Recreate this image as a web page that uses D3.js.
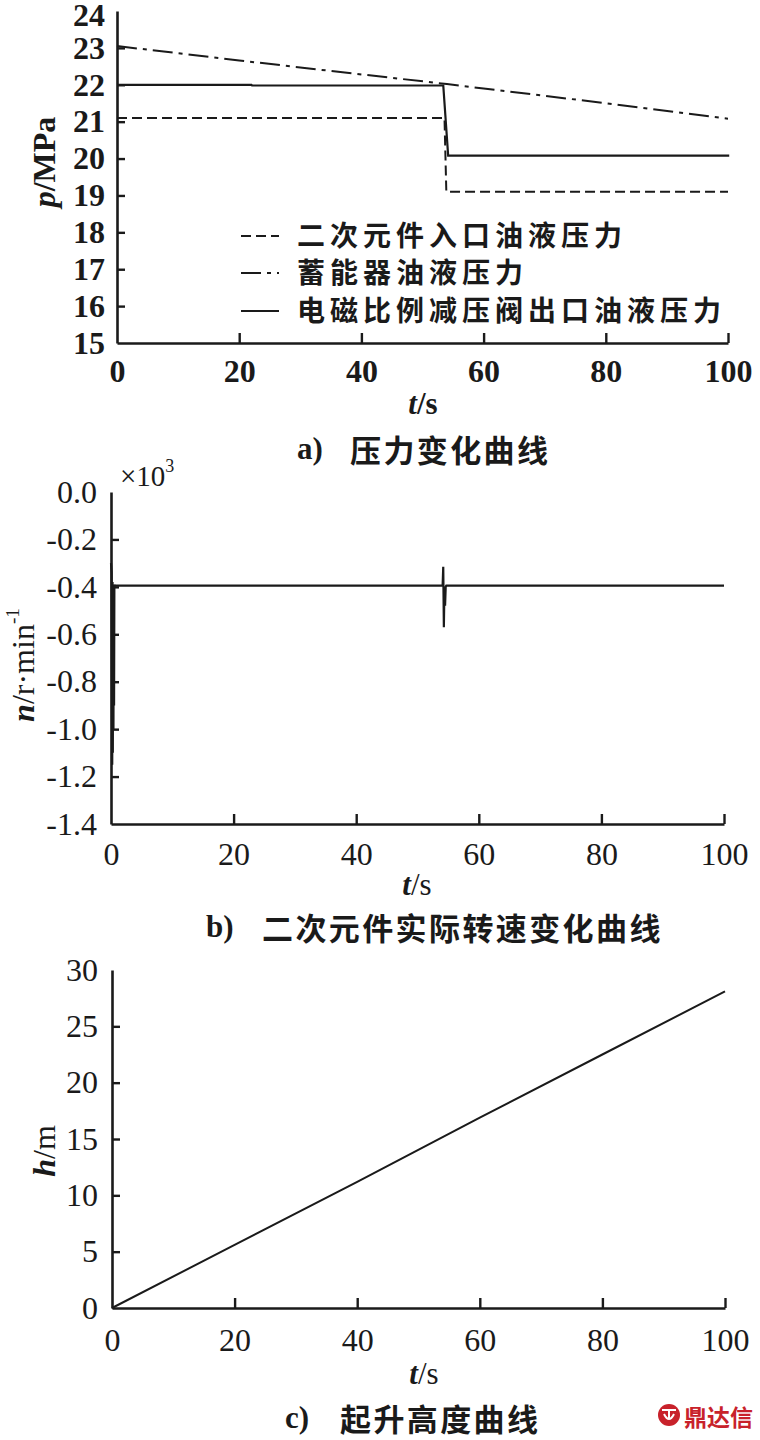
<!DOCTYPE html>
<html><head><meta charset="utf-8">
<script src="https://cdn.jsdelivr.net/npm/d3@7"></script>
<style>
html,body{margin:0;padding:0;background:#fff;}
svg{display:block;}
</style></head>
<body>
<svg id="c" width="760" height="1440"></svg>
<script>
// ---------- data ----------
const tTicks = [0, 20, 40, 60, 80, 100];
const pTicks = [15, 16, 17, 18, 19, 20, 21, 22, 23, 24];
const nTicks = [0, -0.2, -0.4, -0.6, -0.8, -1.0, -1.2, -1.4];
const hTicks = [0, 5, 10, 15, 20, 25, 30];

const legendLabels = ["二次元件入口油液压力", "蓄能器油液压力", "电磁比例减压阀出口油液压力"];

// panel a: pressures (MPa)
const inletT = [0, 53.6, 53.9, 100];
const inletP = [21.1, 21.1, 19.1, 19.1];
const accT = [0, 20, 40, 54, 60, 80, 100];
const accP = [23.05, 22.66, 22.28, 22.02, 21.9, 21.5, 21.08];
const valveT = [0, 22, 22.1, 53.4, 54.2, 100.2];
const valveP = [22.0, 22.0, 21.98, 21.98, 20.08, 20.08];

// panel b: speed (x10^3 r/min)
const speedT = [0, 0.1, 0.2, 0.25, 0.3, 0.35, 0.4, 0.45, 0.5, 0.55, 0.6, 0.8, 54.1, 54.2, 54.3, 54.4, 54.5, 54.6, 54.7, 100];
const speedN = [-0.30, -0.34, -1.15, -0.38, -1.10, -0.39, -1.00, -0.39, -0.90, -0.39, -0.395, -0.395, -0.395, -0.315, -0.57, -0.40, -0.48, -0.40, -0.395, -0.395];

// panel c: lifting height (m)
const hT = [0, 20, 40, 60, 80, 100];
const hV = [0, 5.6, 11.2, 16.9, 22.5, 28.1];

const captions = [["a)", "压力变化曲线"], ["b)", "二次元件实际转速变化曲线"], ["c)", "起升高度曲线"]];

// ---------- drawing ----------
const svg = d3.select("#c");
svg.append("rect").attr("width", 760).attr("height", 1440).attr("fill", "#fff");
const SERIF = '"Liberation Serif","DejaVu Serif",serif';
const CJK = '"Noto Sans CJK SC","Noto Sans CJK JP",sans-serif';
const INK = "#1a1a1a";

function axes(g, x, y, yTicks, yFmt, opts) {
  const xa = g.append("g").attr("transform", `translate(0,${y.range()[0]})`)
    .call(d3.axisBottom(x).tickValues(tTicks).tickSize(-10).tickSizeOuter(0).tickPadding(opts.xPad).tickFormat(d => String(d)));
  const ya = g.append("g").attr("transform", `translate(${x.range()[0]},0)`)
    .call(d3.axisLeft(y).tickValues(yTicks).tickSize(-8).tickSizeOuter(0).tickPadding(opts.yPad).tickFormat(yFmt));
  [xa, ya].forEach(a => {
    a.selectAll("path.domain").attr("stroke", INK).attr("stroke-width", 2.6);
    a.selectAll(".tick line").attr("stroke", INK).attr("stroke-width", 2.4);
    a.selectAll(".tick text").attr("fill", INK).style("font-size", opts.fs + "px")
      .style("font-weight", opts.fw).style("font-family", SERIF);
  });
  ya.selectAll(".tick").filter(d => d === yTicks[yTicks.length - 1] || d === yTicks[0]).select("line").remove();
  xa.selectAll(".tick").filter(d => d === 0).select("line").remove();
  return ya;
}

function line(g, x, y, xs, ys, dash, w) {
  const pts = xs.map((t, i) => [t, ys[i]]);
  g.append("path").attr("d", d3.line().x(d => x(d[0])).y(d => y(d[1]))(pts))
    .attr("fill", "none").attr("stroke", INK).attr("stroke-width", w || 2)
    .attr("stroke-dasharray", dash || null).attr("stroke-linejoin", "miter");
}

function axisTitle(g, x, y, parts, rotate, fs) {
  const t = g.append("text").attr("transform", `translate(${x},${y})` + (rotate ? " rotate(-90)" : ""))
    .attr("text-anchor", "middle").attr("dominant-baseline", "central")
    .style("font-family", SERIF).style("font-size", fs + "px").attr("fill", INK);
  parts.forEach(p => {
    const s = t.append("tspan").text(p.t);
    if (p.i) s.style("font-style", "italic");
    if (p.b) s.style("font-weight", "bold");
    if (p.sup) s.attr("baseline-shift", "super").style("font-size", (fs * 0.6) + "px");
  });
}

function caption(g, i, xl, xc, y, spacing) {
  g.append("text").attr("x", xl).attr("y", y).attr("dominant-baseline", "central")
    .style("font-family", SERIF).style("font-weight", "bold").style("font-size", "31px").attr("fill", INK)
    .text(captions[i][0]);
  g.append("text").attr("x", xc).attr("y", y).attr("dominant-baseline", "central")
    .style("font-family", CJK).style("font-weight", "bold").style("font-size", "31px")
    .style("letter-spacing", spacing + "px").attr("fill", INK).text(captions[i][1]);
}

// ---- panel a ----
{
  const g = svg.append("g");
  const x = d3.scaleLinear().domain([0, 100]).range([117, 728]);
  const y = d3.scaleLinear().domain([15, 24]).range([343, 11]);
  const ya = axes(g, x, y, pTicks, d => String(d), { xPad: 16, yPad: 12, fs: 32, fw: "bold" });
  ya.selectAll(".tick").filter(d => d === 24).select("text").attr("dy", "0.45em");
  line(g, x, y, inletT, inletP, "10,5", 2);
  line(g, x, y, accT, accP, "20,6,4,6", 2);
  line(g, x, y, valveT, valveP, null, 2.2);
  const dashes = ["10,5", "20,6,4,6", null];
  const rows = [234, 271, 309];
  legendLabels.forEach((lab, i) => {
    g.append("line").attr("x1", 241).attr("x2", 279).attr("y1", rows[i] + 2).attr("y2", rows[i] + 2)
      .attr("stroke", INK).attr("stroke-width", 2).attr("stroke-dasharray", dashes[i]);
    g.append("text").attr("x", 297).attr("y", rows[i]).attr("dominant-baseline", "central")
      .style("font-family", CJK).style("font-weight", "bold").style("font-size", "28px")
      .style("letter-spacing", "5px").attr("fill", INK).text(lab);
  });
  axisTitle(g, 44, 162, [{ t: "p", i: 1, b: 1 }, { t: "/MPa", b: 1 }], true, 32);
  axisTitle(g, 423, 403, [{ t: "t", i: 1, b: 1 }, { t: "/s", b: 1 }], false, 31);
  caption(g, 0, 297, 350, 448, 2.4);
}

// ---- panel b ----
{
  const g = svg.append("g");
  const x = d3.scaleLinear().domain([0, 100]).range([111, 724]);
  const y = d3.scaleLinear().domain([-1.4, 0]).range([824, 492]);
  axes(g, x, y, nTicks, d => d.toFixed(1), { xPad: 18, yPad: 14, fs: 32, fw: "normal" });
  line(g, x, y, speedT, speedN, null, 2.2);
  axisTitle(g, 23, 665, [{ t: "n", i: 1, b: 1 }, { t: "/r·min" }, { t: "-1", sup: 1 }], true, 32);
  axisTitle(g, 417, 884, [{ t: "t", i: 1, b: 1 }, { t: "/s" }], false, 31);
  g.append("text").attr("x", 120).attr("y", 476).attr("dominant-baseline", "central")
    .style("font-family", SERIF).style("font-size", "29px").attr("fill", INK)
    .call(t => { t.append("tspan").text("×10"); t.append("tspan").text("3").attr("baseline-shift", "super").style("font-size", "18px"); });
  caption(g, 1, 206, 262, 926, 2.4);
}

// ---- panel c ----
{
  const g = svg.append("g");
  const x = d3.scaleLinear().domain([0, 100]).range([112, 725]);
  const y = d3.scaleLinear().domain([0, 30]).range([1308, 970]);
  axes(g, x, y, hTicks, d => String(d), { xPad: 20, yPad: 14, fs: 32, fw: "normal" });
  line(g, x, y, hT, hV, null, 2);
  axisTitle(g, 44, 1151, [{ t: "h", i: 1, b: 1 }, { t: "/m" }], true, 32);
  axisTitle(g, 424, 1373, [{ t: "t", i: 1, b: 1 }, { t: "/s" }], false, 31);
  caption(g, 2, 285, 340, 1417, 2.4);
}

// ---- watermark ----
{
  const g = svg.append("g");
  const red = "#c8222b";
  g.append("circle").attr("cx", 669).attr("cy", 1415).attr("r", 11).attr("fill", red);
  g.append("path").attr("d", "M662,1410 L676,1410 M664,1414 Q669,1424 674,1414 M669,1410 L669,1420")
    .attr("stroke", "#fff").attr("stroke-width", 2).attr("fill", "none");
  g.append("text").attr("x", 684).attr("y", 1416).attr("dominant-baseline", "central")
    .style("font-family", CJK).style("font-weight", "bold").style("font-size", "23px")
    .attr("fill", red).text("鼎达信");
}
</script>
</body></html>
